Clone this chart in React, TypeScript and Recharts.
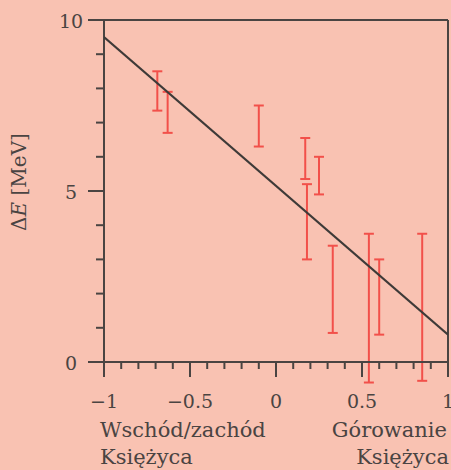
import { ComposedChart, XAxis, YAxis, Scatter, ReferenceLine, Customized } from 'recharts'

// fitted straight line (endpoints)
const fitX = [-1, 1]
const fitY = [9.5, 0.8]

// measurements: position, lower and upper end of error bar
const pointX = [-0.69, -0.63, -0.1, 0.17, 0.25, 0.18, 0.33, 0.54, 0.6, 0.85]
const errLow = [7.35, 6.7, 6.3, 5.35, 4.9, 3.0, 0.85, -0.6, 0.8, -0.55]
const errHigh = [8.5, 7.9, 7.5, 6.55, 6.0, 5.2, 3.4, 3.75, 3.0, 3.75]

const xTicks = [-1, -0.9, -0.8, -0.7, -0.6, -0.5, -0.4, -0.3, -0.2, -0.1, 0, 0.1, 0.2, 0.3, 0.4, 0.5, 0.6, 0.7, 0.8, 0.9, 1]
const xLabels = [-1, -0.5, 0, 0.5, 1]
const yTicks = [0, 1, 2, 3, 4, 5, 6, 7, 8, 9, 10]
const yLabels = [0, 5, 10]

const fitData = fitX.map((x, i) => ({ x, y: fitY[i] }))

const BG = '#f9c2b2'
const INK = '#4a4442'
const RED = '#f2504a'
const FONT = '"DejaVu Serif", serif'

const fmt = (v: number) => (v < 0 ? '\u2212' + String(-v) : String(v))

const XTick = (props: any) => {
  const { x, y, payload } = props
  const major = xLabels.includes(payload.value)
  const len = major ? 15 : 7
  return (
    <g>
      <line x1={x} x2={x} y1={y} y2={y + len} stroke={INK} strokeWidth={2} />
      {major && (
        <text x={x} y={y + 39} textAnchor="middle" dominantBaseline="central" fontSize={19} fontFamily={FONT} fill={INK}>
          {fmt(payload.value)}
        </text>
      )}
    </g>
  )
}

const YTick = (props: any) => {
  const { x, y, payload } = props
  const major = yLabels.includes(payload.value)
  const len = major ? 16 : 8
  return (
    <g>
      <line x1={x - len} x2={x} y1={y} y2={y} stroke={INK} strokeWidth={2} />
      {major && (
        <text x={x - 33} y={y + 1} textAnchor="middle" dominantBaseline="central" fontSize={19} fontFamily={FONT} fill={INK}>
          {fmt(payload.value)}
        </text>
      )}
    </g>
  )
}

const ErrShape = (props: any) => {
  const { x1, y1, x2, y2 } = props
  return (
    <g>
      <line x1={x1} x2={x2} y1={y1} y2={y2} stroke={RED} strokeWidth={2} />
      <line x1={x1 - 5} x2={x1 + 5} y1={y1} y2={y1} stroke={RED} strokeWidth={2} />
      <line x1={x2 - 5} x2={x2 + 5} y1={y2} y2={y2} stroke={RED} strokeWidth={2} />
    </g>
  )
}

const Texts = () => (
  <g fontFamily={FONT} fill={INK} fontSize={21}>
    <text x={19} y={182} transform="rotate(-90 19 182)" textAnchor="middle" dominantBaseline="central" fontSize={20}>
      {'\u0394'}<tspan fontStyle="italic">E</tspan> [MeV]
    </text>
    <text x={100} y={430} dominantBaseline="central">Wschód/zachód</text>
    <text x={100} y={457} dominantBaseline="central">Księżyca</text>
    <text x={447} y={430} textAnchor="end" dominantBaseline="central">Górowanie</text>
    <text x={449} y={457} textAnchor="end" dominantBaseline="central">Księżyca</text>
  </g>
)

export default function App() {
  return (
    <div style={{ position: 'absolute', left: 0, top: 0, width: 451, height: 470, background: BG }}>
      <ComposedChart width={451} height={470} margin={{ top: 20, right: 3, left: 0, bottom: 0 }}>
        <XAxis
          type="number"
          dataKey="x"
          domain={[-1, 1]}
          ticks={xTicks}
          interval={0}
          allowDataOverflow
          height={108}
          tickSize={0}
          tickMargin={0}
          axisLine={{ stroke: INK, strokeWidth: 2 }}
          tickLine={false}
          tick={XTick}
        />
        <YAxis
          type="number"
          dataKey="y"
          domain={[0, 10]}
          ticks={yTicks}
          interval={0}
          allowDataOverflow
          width={104}
          tickSize={0}
          tickMargin={0}
          axisLine={{ stroke: INK, strokeWidth: 2 }}
          tickLine={false}
          tick={YTick}
        />
        <ReferenceLine y={10} stroke={INK} strokeWidth={2} ifOverflow="visible" />
        <ReferenceLine x={1} stroke={INK} strokeWidth={2} ifOverflow="visible" />
        {pointX.map((px, i) => (
          <ReferenceLine
            key={i}
            segment={[{ x: px, y: errLow[i] }, { x: px, y: errHigh[i] }]}
            ifOverflow="visible"
            shape={ErrShape}
          />
        ))}
        <Scatter
          data={fitData}
          line={{ stroke: '#3e3a38', strokeWidth: 2 }}
          shape={() => <g />}
          isAnimationActive={false}
        />
        <Customized component={Texts} />
      </ComposedChart>
    </div>
  )
}
